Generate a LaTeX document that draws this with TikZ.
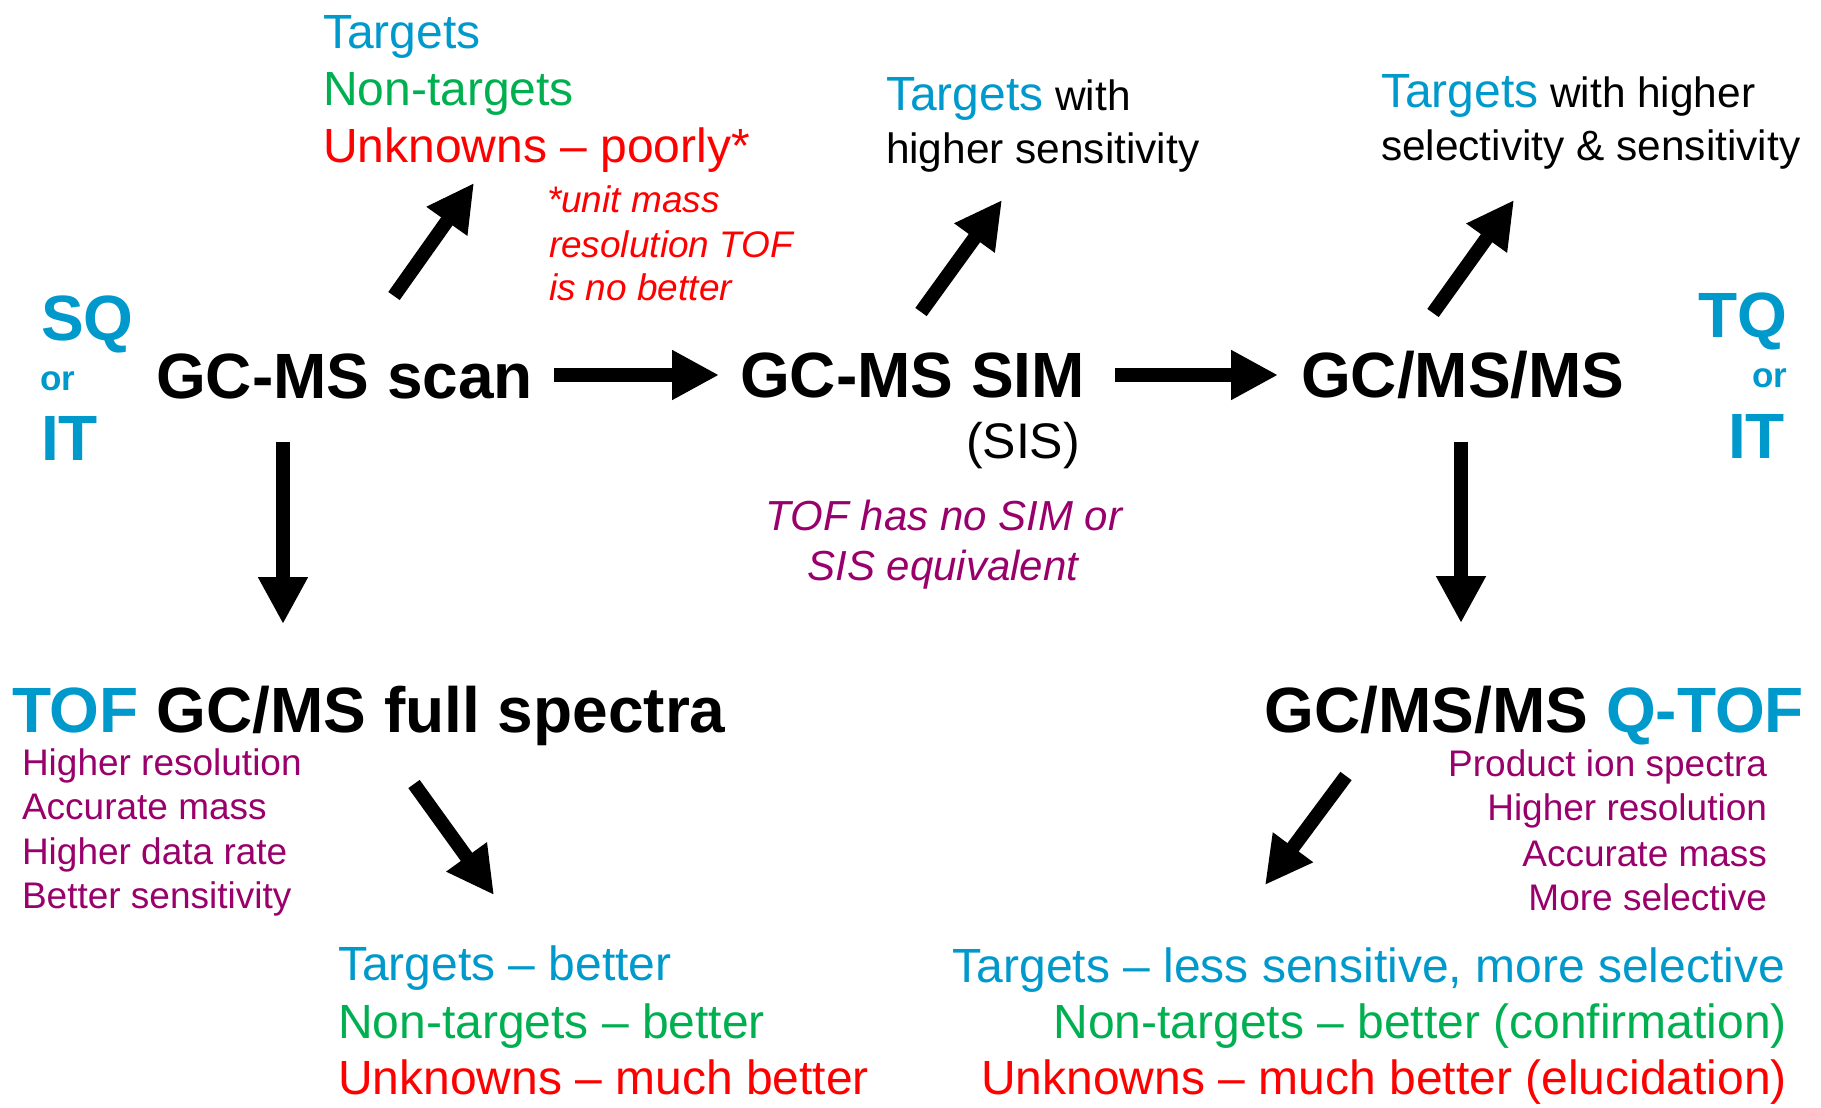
\documentclass[tikz,border=0pt]{standalone}
\usepackage{fontspec}
\setmainfont{Liberation Sans}
\usetikzlibrary{arrows.meta}
\definecolor{cyc}{RGB}{0,153,204}
\definecolor{grc}{RGB}{0,176,80}
\definecolor{rdc}{RGB}{255,0,0}
\definecolor{ppc}{RGB}{153,0,107}
\begin{document}
\begin{tikzpicture}[x=0.5pt,y=-0.5pt,
  txt/.style={inner sep=0pt, outer sep=0pt},
  big/.style={txt, font=\bfseries\fontsize{32}{36}\selectfont},
  mid/.style={txt, font=\fontsize{24}{28}\selectfont},
  sml/.style={txt, font=\fontsize{21.2}{25}\selectfont},
  note/.style={txt, font=\fontsize{18.5}{22}\selectfont},
  orf/.style={txt, font=\bfseries\fontsize{17.5}{20}\selectfont},
  fat/.style={line width=7pt, -{Triangle[width=23.5pt,length=23.5pt]}},
]
\useasboundingbox (0,0) rectangle (1821,1108);

% top-left result list
\node[mid, cyc, anchor=base west] (sa) at (323,48) {Targets};
\node[mid, grc, anchor=base west] (sb) at (323,105) {Non-targets};
\node[mid, rdc, anchor=base west] (sc) at (323,162) {Unknowns – poorly*};
\node[note, rdc, font=\itshape\fontsize{18.5}{22}\selectfont, anchor=base west] (na) at (547,212) {*unit mass};
\node[note, rdc, font=\itshape\fontsize{18.5}{22}\selectfont, anchor=base west] (nb) at (549,257) {resolution TOF};
\node[note, rdc, font=\itshape\fontsize{18.5}{22}\selectfont, anchor=base west] (nc) at (549,300) {is no better};

% SIM results
\node[sml, anchor=base west] (ma) at (886,110) {{\fontsize{24}{28}\selectfont\color{cyc}Targets} with};
\node[sml, anchor=base west] (mb) at (886,163) {higher sensitivity};

% MS/MS results
\node[sml, anchor=base west] (ra) at (1381,107) {{\fontsize{24}{28}\selectfont\color{cyc}Targets} with higher};
\node[sml, anchor=base west] (rb) at (1381,160) {selectivity \& sensitivity};

% SQ or IT
\node[big, cyc, anchor=base west] (sq) at (41,340) {SQ};
\node[orf, cyc, anchor=base west] (sqor) at (40,390) {or};
\node[big, cyc, anchor=base west] (sqit) at (41,460) {IT};

% TQ or IT
\node[big, cyc, anchor=base east] (tq) at (1787,337) {TQ};
\node[orf, cyc, anchor=base east] (tqor) at (1787,387) {or};
\node[big, cyc, anchor=base east] (tqit) at (1785,458) {IT};

% main row
\node[big, anchor=base west] (scan) at (156,398) {GC-MS scan};
\node[big, anchor=base west] (sim) at (740,397) {GC-MS SIM};
\node[txt, font=\fontsize{25}{30}\selectfont, anchor=base west] (sis) at (966,458) {(SIS)};
\node[big, anchor=base west] (msms) at (1301,397) {GC/MS/MS};

% TOF note
\node[txt, ppc, font=\itshape\fontsize{21}{25}\selectfont, anchor=base] (ta) at (944,530) {TOF has no SIM or};
\node[txt, ppc, font=\itshape\fontsize{21}{25}\selectfont, anchor=base] (tb) at (943,580) {SIS equivalent};

% TOF full spectra
\node[big, anchor=base west] (tof) at (12,732) {{\color{cyc}TOF} GC/MS full spectra};
\node[note, ppc, anchor=base west] (la) at (22,775) {Higher resolution};
\node[note, ppc, anchor=base west] (lb) at (22,819) {Accurate mass};
\node[note, ppc, anchor=base west] (lc) at (22,864) {Higher data rate};
\node[note, ppc, anchor=base west] (ld) at (22,908) {Better sensitivity};

% Q-TOF
\node[big, anchor=base east] (qtof) at (1804,732) {GC/MS/MS {\color{cyc}Q-TOF}};
\node[note, ppc, anchor=base east] (qa) at (1767,776) {Product ion spectra};
\node[note, ppc, anchor=base east] (qb) at (1767,820) {Higher resolution};
\node[note, ppc, anchor=base east] (qc) at (1767,866) {Accurate mass};
\node[note, ppc, anchor=base east] (qd) at (1767,910) {More selective};

% bottom-left results
\node[mid, cyc, anchor=base west] (ba) at (338,980) {Targets – better};
\node[mid, grc, anchor=base west] (bb) at (338,1038) {Non-targets – better};
\node[mid, rdc, anchor=base west] (bc) at (338,1094) {Unknowns – much better};

% bottom-right results
\node[mid, cyc, anchor=base east] (ca) at (1785,982) {Targets – less sensitive, more selective};
\node[mid, grc, anchor=base east] (cb) at (1787,1038) {Non-targets – better (confirmation)};
\node[mid, rdc, anchor=base east] (cc) at (1787,1094) {Unknowns – much better (elucidation)};

% arrow ends
\coordinate (a1s) at (394,296); \coordinate (a1e) at (474,183);
\coordinate (a2s) at (921,312); \coordinate (a2e) at (1002,200);
\coordinate (a3s) at (1433,313); \coordinate (a3e) at (1514,200);
\coordinate (h1s) at (554,375); \coordinate (h1e) at (719,375);
\coordinate (h2s) at (1115,375); \coordinate (h2e) at (1278,375);
\coordinate (d1s) at (283,442); \coordinate (d1e) at (283,624);
\coordinate (d2s) at (1461,442); \coordinate (d2e) at (1461,623);
\coordinate (a4s) at (414,784); \coordinate (a4e) at (494,895);
\coordinate (a5s) at (1346,776); \coordinate (a5e) at (1265,885);

\draw[fat] (a1s) -- (a1e);
\draw[fat] (a2s) -- (a2e);
\draw[fat] (a3s) -- (a3e);
\draw[fat] (h1s) -- (h1e);
\draw[fat] (h2s) -- (h2e);
\draw[fat] (d1s) -- (d1e);
\draw[fat] (d2s) -- (d2e);
\draw[fat] (a4s) -- (a4e);
\draw[fat] (a5s) -- (a5e);
\end{tikzpicture}
\end{document}
